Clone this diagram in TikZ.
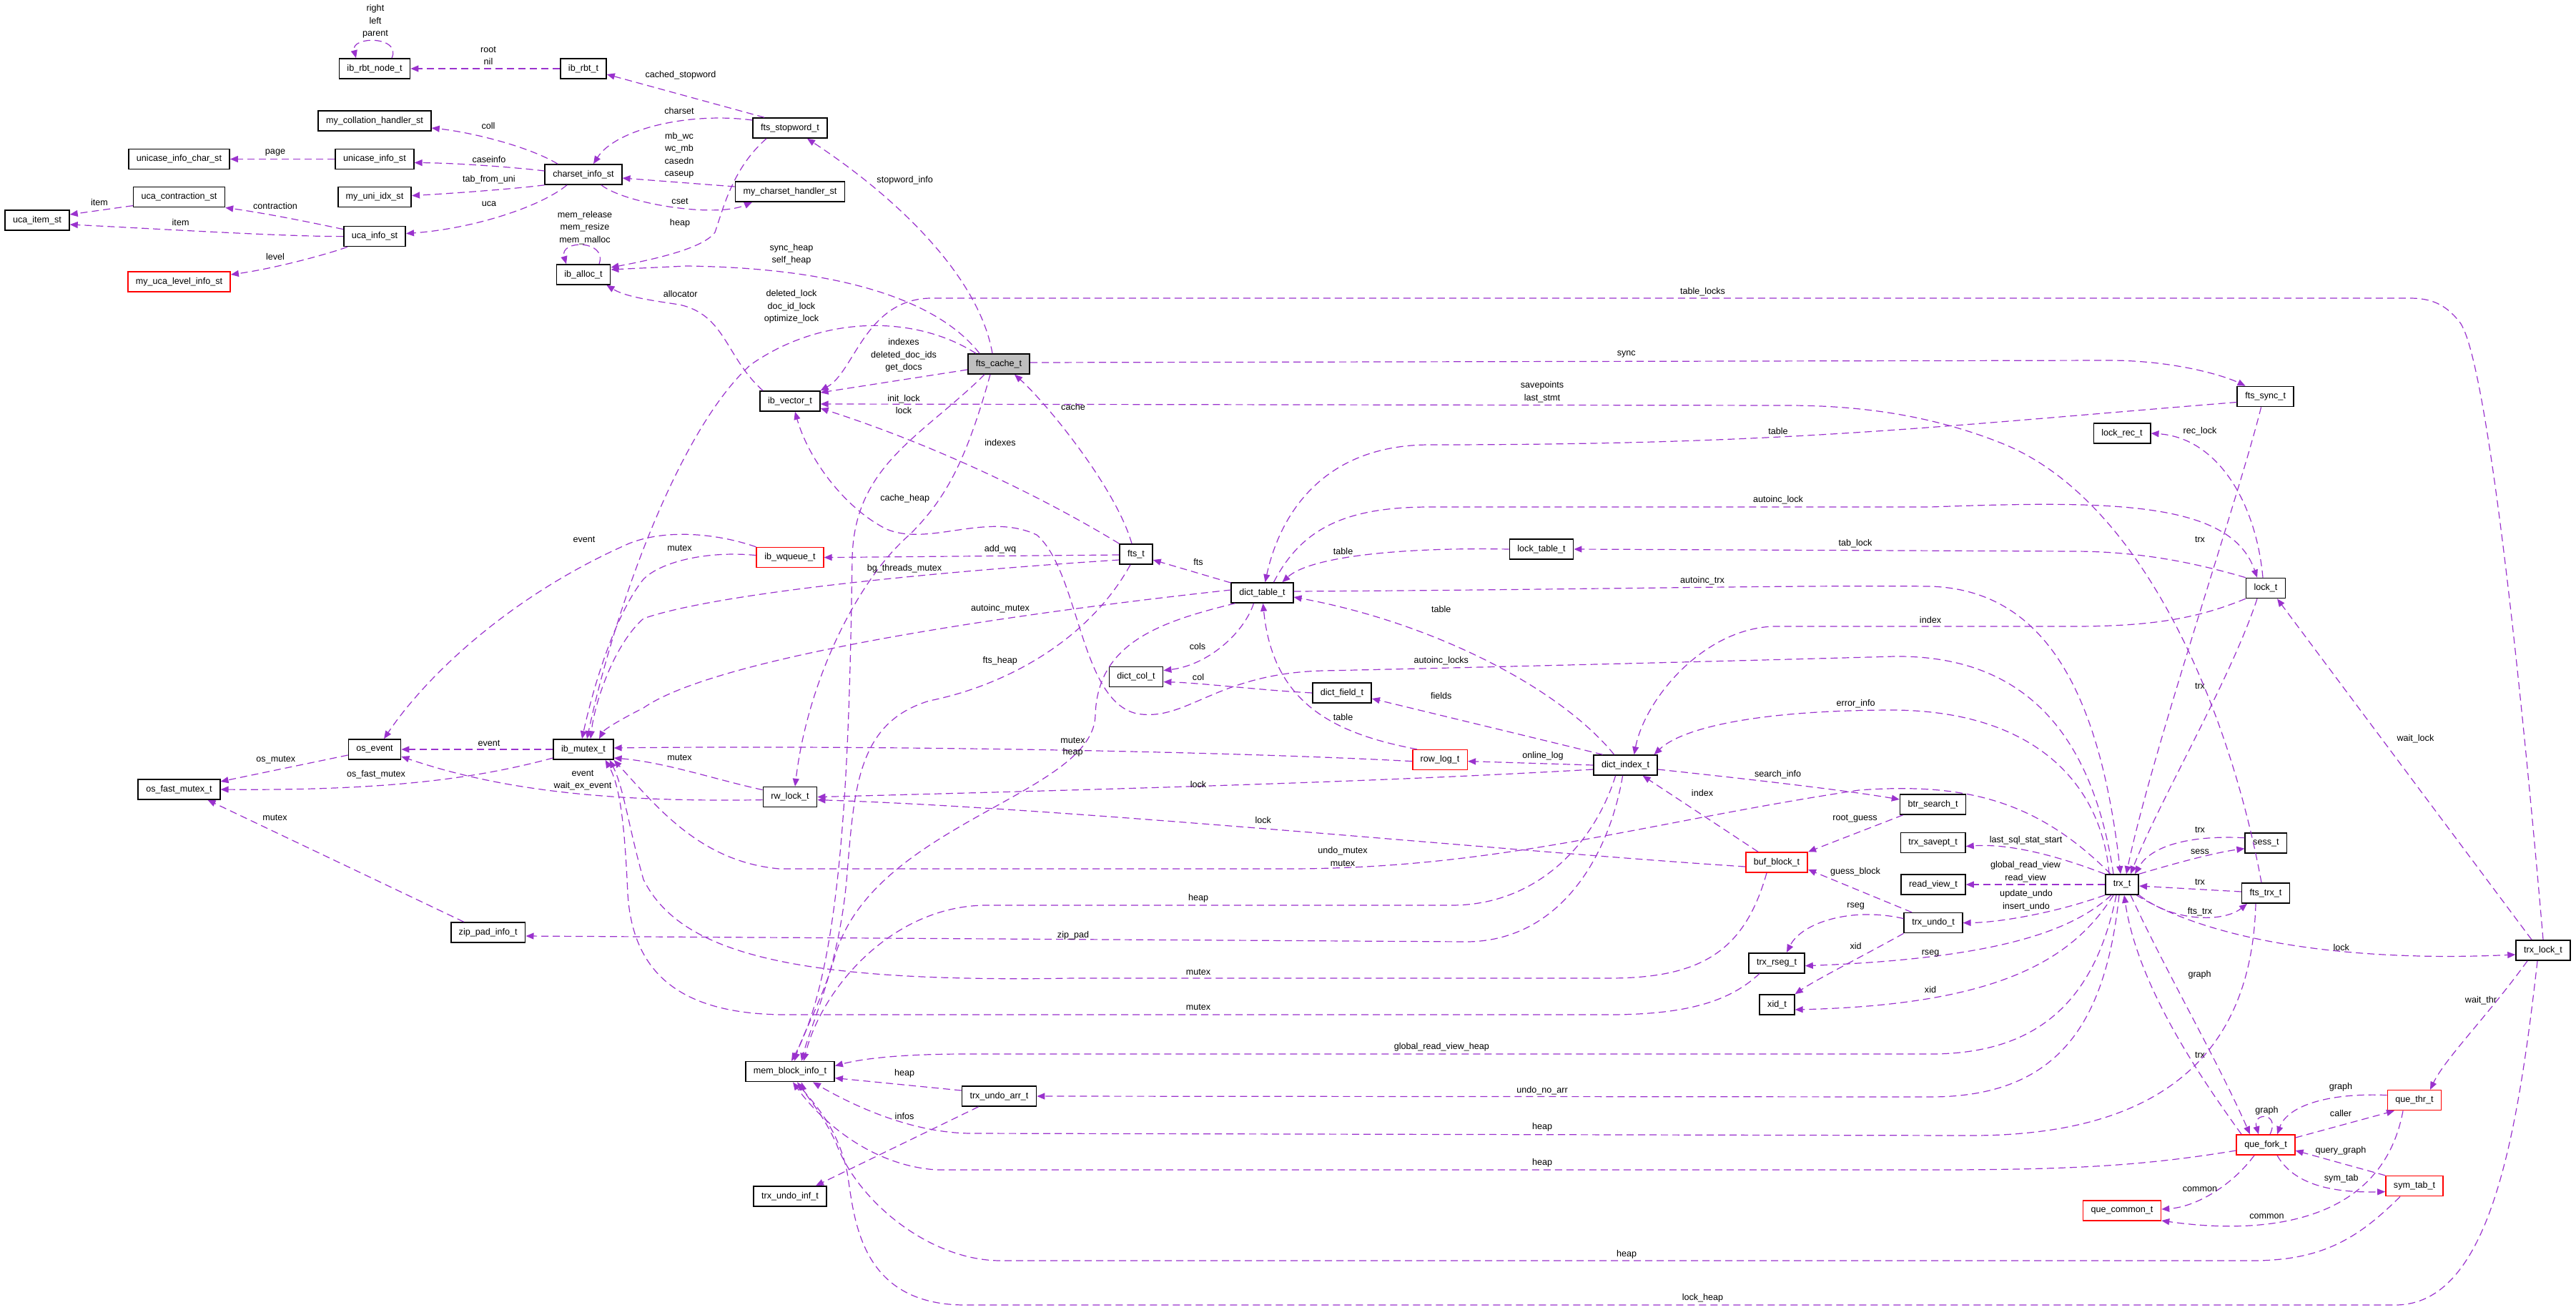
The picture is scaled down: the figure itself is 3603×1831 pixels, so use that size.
\documentclass[tikz,border=0pt]{standalone}
\usepackage{fontspec}
\setmainfont{Liberation Sans}
\usetikzlibrary{arrows.meta}
\definecolor{edgeclr}{HTML}{9A32CD}
\definecolor{mainfill}{HTML}{BFBFBF}
\newcommand{\dxsize}{\fontsize{6.3}{8.75}\selectfont}

\begin{document}
\begin{tikzpicture}[
    x=0.5pt, y=-0.5pt,
    cls/.style={draw=black, line width=0.8pt, fill=white, font=\dxsize,
                inner xsep=5.5pt, inner ysep=0pt, minimum height=14pt},
    clsred/.style={cls, draw=red},
    clsmain/.style={cls, fill=mainfill},
    ed/.style={draw=edgeclr, line width=0.6pt, dash pattern=on 5pt off 3pt,
               -{Triangle[length=5.5pt,width=4.5pt]}},
    lbl/.style={font=\dxsize, inner sep=0pt, align=center},
  ]
  \useasboundingbox (0,0) rectangle (3603,1831);

  \node[cls] (ibrbtnode) at (524,96) {ib\_rbt\_node\_t};
  \node[cls] (ibrbt) at (816,96) {ib\_rbt\_t};
  \node[cls] (collhandler) at (524,169) {my\_collation\_handler\_st};
  \node[cls] (unicasechar) at (250.5,222.5) {unicase\_info\_char\_st};
  \node[cls] (unicase) at (524,222.5) {unicase\_info\_st};
  \node[cls] (charset) at (816,244) {charset\_info\_st};
  \node[cls] (uniidx) at (524,275.6) {my\_uni\_idx\_st};
  \node[cls] (ucacontr) at (250.5,275.6) {uca\_contraction\_st};
  \node[cls] (ucaitem) at (52,308) {uca\_item\_st};
  \node[cls] (ucainfo) at (524,330.6) {uca\_info\_st};
  \node[clsred] (ucalevel) at (250.5,394) {my\_uca\_level\_info\_st};
  \node[cls] (iballoc) at (816,384) {ib\_alloc\_t};
  \node[cls] (stopword) at (1105,179) {fts\_stopword\_t};
  \node[cls] (charsethandler) at (1105,268) {my\_charset\_handler\_st};
  \node[clsmain] (ftscache) at (1397,509) {fts\_cache\_t};
  \node[cls] (ibvector) at (1105,561) {ib\_vector\_t};
  \node[clsred] (ibwqueue) at (1105,779.6) {ib\_wqueue\_t};
  \node[cls] (osevent) at (524,1048) {os\_event};
  \node[cls] (ibmutex) at (816,1048) {ib\_mutex\_t};
  \node[cls] (osfastmutex) at (250.5,1104) {os\_fast\_mutex\_t};
  \node[cls] (zippad) at (682.7,1304) {zip\_pad\_info\_t};
  \node[cls] (rwlock) at (1105,1114.6) {rw\_lock\_t};
  \node[cls] (ftst) at (1589,775) {fts\_t};
  \node[cls] (dicttable) at (1765.5,829) {dict\_table\_t};
  \node[cls] (dictcol) at (1589,946.6) {dict\_col\_t};
  \node[cls] (memblock) at (1105,1498.6) {mem\_block\_info\_t};
  \node[cls] (trxundoarr) at (1397.5,1533) {trx\_undo\_arr\_t};
  \node[cls] (trxundoinf) at (1105,1673) {trx\_undo\_inf\_t};
  \node[cls] (locktable) at (2156,768) {lock\_table\_t};
  \node[cls] (dictfield) at (1877,969) {dict\_field\_t};
  \node[clsred] (rowlog) at (2014,1062.6) {row\_log\_t};
  \node[cls] (dictindex) at (2273.6,1070) {dict\_index\_t};
  \node[cls] (btrsearch) at (2703.6,1125) {btr\_search\_t};
  \node[cls] (trxsavept) at (2703.6,1178.6) {trx\_savept\_t};
  \node[clsred] (bufblock) at (2485,1206) {buf\_block\_t};
  \node[cls] (readview) at (2704,1237) {read\_view\_t};
  \node[cls] (trxundo) at (2704,1290.6) {trx\_undo\_t};
  \node[cls] (trxrseg) at (2485,1346.7) {trx\_rseg\_t};
  \node[cls] (xid) at (2485.5,1405) {xid\_t};
  \node[cls] (ftssync) at (3168.6,554.5) {fts\_sync\_t};
  \node[cls] (lockrec) at (2968,606) {lock\_rec\_t};
  \node[cls] (lockt) at (3169,822.5) {lock\_t};
  \node[cls] (sess) at (3169.4,1178.7) {sess\_t};
  \node[cls] (trx) at (2968,1237) {trx\_t};
  \node[cls] (ftstrx) at (3169,1249) {fts\_trx\_t};
  \node[cls] (trxlock) at (3557,1329) {trx\_lock\_t};
  \node[clsred] (quethr) at (3377,1538.6) {que\_thr\_t};
  \node[clsred] (quefork) at (3169,1601) {que\_fork\_t};
  \node[clsred] (symtab) at (3377,1658.6) {sym\_tab\_t};
  \node[clsred] (quecommon) at (2968,1693) {que\_common\_t};

  \draw[ed] ([xshift=12pt]ibrbtnode.north) .. controls (562,50) and (490,50) .. ([xshift=-13pt]ibrbtnode.north)
    node[lbl] at (525,30) {right\\left\\parent};
  \draw[ed] (ibrbt.west) -- (ibrbtnode.east) node[lbl] at (683,78) {root\\nil};
  \draw[ed] ([xshift=-18pt]stopword.north) -- ([yshift=-4pt]ibrbt.east) node[lbl] at (952,105) {cached\_stopword};
  \draw[ed] ([xshift=-18pt]charset.north) .. controls (740,205) and (660,185) .. ([yshift=-5pt]collhandler.east)
    node[lbl] at (683,176) {coll};
  \draw[ed] ([yshift=2.5pt]charset.west) .. controls (720,234) and (640,228) .. ([yshift=-2.5pt]unicase.east)
    node[lbl] at (684,222.6) {caseinfo};
  \draw[ed] (unicase.west) -- (unicasechar.east) node[lbl] at (385,213.5) {page};
  \draw[ed] (charset.south west) .. controls (720,264) and (640,270) .. ([yshift=1pt]uniidx.east)
    node[lbl] at (684,251.5) {tab\_from\_uni};
  \draw[ed] ([xshift=-11.5pt]charset.south) .. controls (755,290) and (660,320) .. ([yshift=2pt]ucainfo.east)
    node[lbl] at (684,284.7) {uca};
  \draw[ed] ([yshift=-6pt]ucacontr.west) -- ([yshift=4pt]ucaitem.east) node[lbl] at (139,283) {item};
  \draw[ed] (ucainfo.west) .. controls (400,331) and (220,320) .. ([yshift=-3pt]ucaitem.east)
    node[lbl] at (252.6,310.8) {item};
  \draw[ed] ([yshift=5pt]ucainfo.west) .. controls (430,310) and (370,298) .. (ucacontr.south east)
    node[lbl] at (385,288) {contraction};
  \draw[ed] ([xshift=-19pt]ucainfo.south) .. controls (450,358) and (380,376) .. ([yshift=5pt]ucalevel.east)
    node[lbl] at (385,358.6) {level};
  \draw[ed] ([xshift=11pt]iballoc.north) .. controls (850,335) and (782,335) .. ([xshift=-12pt]iballoc.north)
    node[lbl] at (818,318.4) {mem\_release\\mem\_resize\\mem\_malloc};
  \draw[ed] ([yshift=5.5pt]stopword.west) .. controls (960,156) and (860,182) .. ([xshift=7pt]charset.north)
    node[lbl] at (950,154.6) {charset};
  \draw[ed] ([yshift=3.5pt]charsethandler.west) -- ([yshift=-2.5pt]charset.east)
    node[lbl] at (950,217) {mb\_wc\\wc\_mb\\casedn\\caseup};
  \draw[ed] ([xshift=12.5pt]charset.south) .. controls (875,285) and (1000,305) .. ([xshift=-26.5pt]charsethandler.south)
    node[lbl] at (951,281) {cset};
  \draw[ed] ([xshift=-16.5pt]stopword.south) .. controls (1025,235) and (1012,290) .. (1000,325)
    .. controls (985,345) and (930,360) .. ([yshift=5pt]iballoc.east) node[lbl] at (951,312) {heap};
  \draw[ed] ([xshift=-13.5pt]ftscache.north) .. controls (1320,430) and (1200,375) .. (960,372) -- ([yshift=3.5pt]iballoc.east)
    node[lbl] at (1107,355.5) {sync\_heap\\self\_heap};
  \draw[ed] ([xshift=-19pt]ibvector.north) .. controls (1015,500) and (1015,440) .. (950,426)
    .. controls (910,420) and (875,415) .. ([xshift=-3pt]iballoc.south east) node[lbl] at (951.7,411) {allocator};
  \draw[ed] ([xshift=-4.5pt]ftscache.north) .. controls (1370,390) and (1260,280) .. ([xshift=12pt]stopword.south)
    node[lbl] at (1265.7,252) {stopword\_info};
  \draw[ed] ([xshift=-16pt]ftscache.north) .. controls (1280,440) and (1150,440) .. (1050,510)
    .. controls (950,600) and (860,850) .. ([xshift=2.5pt]ibmutex.north)
    node[lbl] at (1107,429) {deleted\_lock\\doc\_id\_lock\\optimize\_lock};
  \draw[ed] ([yshift=-4pt]ftscache.west) -- ([yshift=6pt]ibvector.east)
    node[lbl] at (1264,497) {indexes\\deleted\_doc\_ids\\get\_docs};
  \draw[ed] ([xshift=-6pt]ftscache.south) .. controls (1350,650) and (1320,700) .. (1273,747)
    .. controls (1200,810) and (1130,950) .. ([xshift=3.5pt]rwlock.north) node[lbl] at (1264,565.6) {init\_lock\\lock};
  \draw[ed] ([xshift=-10pt]ftscache.south) .. controls (1290,610) and (1195,650) .. (1192,780)
    .. controls (1188,1050) and (1180,1350) .. ([xshift=1pt]memblock.north) node[lbl] at (1265.7,697) {cache\_heap};
  \draw[ed] ([xshift=-3pt]ftst.north) .. controls (1560,680) and (1460,560) .. ([xshift=11pt]ftscache.south)
    node[lbl] at (1501,569) {cache};
  \draw[ed] (ftst.north west) .. controls (1450,690) and (1300,620) .. ([yshift=-5pt]ibvector.east)
    node[lbl] at (1399,619) {indexes};
  \draw[ed] ([yshift=-0.5pt]ftst.west) -- (ibwqueue.east) node[lbl] at (1399,768) {add\_wq};
  \draw[ed] ([yshift=-4pt]ftst.west) .. controls (1300,800) and (1000,830) .. (900,865)
    .. controls (860,900) and (832,980) .. ([xshift=5pt]ibmutex.north) node[lbl] at (1265,795.7) {bg\_threads\_mutex};
  \draw[ed] ([yshift=1.5pt]ibwqueue.west) .. controls (990,770) and (925,785) .. (900,810)
    .. controls (860,860) and (830,960) .. ([xshift=-1pt]ibmutex.north) node[lbl] at (950.5,766.5) {mutex};
  \draw[ed] (ibwqueue.north west) .. controls (1000,745) and (930,740) .. (880,760)
    .. controls (720,830) and (600,940) .. ([xshift=6.5pt]osevent.north) node[lbl] at (817,754.6) {event};
  \draw[ed] ([yshift=2pt]dicttable.west) .. controls (1400,860) and (1000,920) .. (900,990)
    .. controls (870,1005) and (845,1020) .. ([xshift=11pt]ibmutex.north) node[lbl] at (1399,850.7) {autoinc\_mutex};
  \draw[ed] ([yshift=-1pt]rowlog.west) .. controls (1700,1050) and (1200,1042) .. ([yshift=1pt]ibmutex.east)
    node[lbl] at (1500.5,1035) {mutex};
  \draw[ed] ([yshift=5pt]rwlock.west) .. controls (1000,1090) and (930,1066) .. ([yshift=-6pt]ibmutex.east)
    node[lbl] at (950.5,1059) {mutex};
  \draw[ed] ([yshift=-2pt]rwlock.west) .. controls (850,1122) and (700,1105) .. ([yshift=-5pt]osevent.east)
    node[lbl] at (815,1091.3) {event\\wait\_ex\_event};
  \draw[ed] (ibmutex.west) -- (osevent.east) node[lbl] at (684,1039) {event};
  \draw[ed] ([yshift=-4pt]osevent.west) -- ([yshift=5.5pt]osfastmutex.east) node[lbl] at (385.8,1063) {os\_mutex};
  \draw[ed] ([yshift=-6pt]ibmutex.west) .. controls (680,1085) and (560,1106) .. (osfastmutex.east)
    node[lbl] at (526,1082.8) {os\_fast\_mutex};
  \draw[ed] ([xshift=-17pt]zippad.north) -- ([xshift=20pt]osfastmutex.south) node[lbl] at (384.6,1143) {mutex};
  \draw[ed] ([xshift=-2pt]dictindex.south) .. controls (2250,1200) and (2180,1317) .. (2050,1317)
    -- ([yshift=-2.5pt]zippad.east) node[lbl] at (1501,1307.8) {zip\_pad};
  \draw[ed] ([xshift=-7pt]dictindex.south) .. controls (2230,1180) and (2150,1266) .. (2030,1266) -- (1380,1266)
    .. controls (1250,1266) and (1150,1380) .. ([xshift=9.5pt]memblock.north) node[lbl] at (1676,1256.7) {heap};
  \draw[ed] ([xshift=-19pt]dicttable.south) .. controls (1620,870) and (1535,900) .. (1532,1000)
    .. controls (1530,1110) and (1230,1150) .. (1170,1330)
    .. controls (1150,1400) and (1125,1440) .. ([xshift=3pt]memblock.north) node[lbl] at (1500.5,1052) {heap};
  \draw[ed] ([xshift=-4pt]ftst.south) .. controls (1520,900) and (1400,960) .. (1300,980)
    .. controls (1200,1010) and (1195,1100) .. (1185,1220)
    .. controls (1175,1350) and (1135,1430) .. ([xshift=8pt]memblock.north) node[lbl] at (1398.8,923.8) {fts\_heap};
  \draw[ed] ([yshift=-3pt]dictindex.west) .. controls (1900,1095) and (1500,1105) .. (rwlock.east)
    node[lbl] at (1676,1096.6) {lock};
  \draw[ed] ([yshift=-3pt]bufblock.west) .. controls (2100,1190) and (1500,1130) .. ([yshift=-2pt]rwlock.east)
    node[lbl] at (1766.8,1146.5) {lock};
  \draw[ed] ([xshift=4pt]trx.north west) .. controls (2850,1120) and (2750,1094) .. (2600,1105)
    .. controls (2300,1150) and (2100,1215) .. (1800,1215) -- (1090,1215)
    .. controls (980,1205) and (920,1130) .. (ibmutex.south east) node[lbl] at (1878,1198) {undo\_mutex\\mutex};
  \draw[ed] ([xshift=-7pt]bufblock.south) .. controls (2440,1330) and (2380,1368) .. (2250,1368) -- (1500,1368)
    .. controls (1100,1375) and (950,1330) .. (900,1230)
    .. controls (880,1160) and (872,1100) .. ([xshift=-3pt]ibmutex.south east) node[lbl] at (1676,1359) {mutex};
  \draw[ed] ([xshift=-12pt]trxrseg.south) .. controls (2420,1400) and (2360,1419) .. (2250,1419) -- (1100,1419)
    .. controls (950,1419) and (885,1360) .. (878,1250)
    .. controls (874,1160) and (868,1100) .. ([xshift=-6pt]ibmutex.south east) node[lbl] at (1676,1408.8) {mutex};
  \draw[ed] ([xshift=-16pt]rowlog.north) .. controls (1860,1025) and (1780,980) .. ([xshift=0.5pt]dicttable.south)
    node[lbl] at (1878.6,1002.5) {table};
  \draw[ed] ([xshift=-8pt]dictindex.north) .. controls (2180,960) and (2000,870) .. ([yshift=-3pt]dicttable.east)
    node[lbl] at (2015.8,852) {table};
  \draw[ed] (locktable.west) .. controls (1950,765) and (1830,780) .. ([xshift=14pt]dicttable.north)
    node[lbl] at (1878.6,770.8) {table};
  \draw[ed] ([yshift=-4pt]ftssync.west) .. controls (2700,597) and (2500,622) .. (2000,622)
    .. controls (1850,622) and (1790,720) .. ([xshift=2pt]dicttable.north) node[lbl] at (2487,603) {table};
  \draw[ed] ([yshift=7pt]dicttable.west) -- ([yshift=-4pt]ftst.east) node[lbl] at (1676,786) {fts};
  \draw[ed] ([xshift=-6pt]dicttable.south) .. controls (1740,885) and (1690,930) .. ([yshift=4.5pt]dictcol.east)
    node[lbl] at (1675,903.7) {cols};
  \draw[ed] (dictfield.west) .. controls (1760,965) and (1680,955) .. ([yshift=-3.5pt]dictcol.east)
    node[lbl] at (1676,946.8) {col};
  \draw[ed] ([xshift=-16pt]dictindex.north) -- ([yshift=-4pt]dictfield.east) node[lbl] at (2015.8,972.5) {fields};
  \draw[ed] (dictindex.west) -- ([yshift=-1pt]rowlog.east) node[lbl] at (2158,1057) {online\_log};
  \draw[ed] ([yshift=-3pt]dictindex.east) .. controls (2450,1090) and (2580,1105) .. ([yshift=3.5pt]btrsearch.west)
    node[lbl] at (2486.6,1083.6) {search\_info};
  \draw[ed] ([xshift=-21pt]btrsearch.south) -- ([xshift=22pt]bufblock.north) node[lbl] at (2594.5,1145) {root\_guess};
  \draw[ed] ([xshift=-13pt]bufblock.north) -- ([xshift=12pt]dictindex.south) node[lbl] at (2381,1108.5) {index};
  \draw[ed] ([xshift=-15pt]trxundo.north) -- ([yshift=-5pt]bufblock.east) node[lbl] at (2595,1219) {guess\_block};
  \draw[ed] ([yshift=3pt]trxundo.west) .. controls (2590,1268) and (2520,1290) .. ([xshift=7pt]trxrseg.north)
    node[lbl] at (2595.6,1267) {rseg};
  \draw[ed] (trxundo.south west) .. controls (2600,1340) and (2540,1370) .. (xid.north east)
    node[lbl] at (2595.6,1322.7) {xid};
  \draw[ed] ([xshift=-7.5pt]trx.south) .. controls (2900,1300) and (2800,1340) .. ([yshift=-2pt]trxrseg.east)
    node[lbl] at (2700,1333) {rseg};
  \draw[ed] ([xshift=-6pt]trx.south) .. controls (2900,1340) and (2800,1405) .. ([yshift=-3.5pt]xid.east)
    node[lbl] at (2700,1384) {xid};
  \draw[ed] (trx.south west) .. controls (2880,1275) and (2800,1290) .. (trxundo.east)
    node[lbl] at (2834,1259) {update\_undo\\insert\_undo};
  \draw[ed] (trx.west) -- (readview.east) node[lbl] at (2833,1219.4) {global\_read\_view\\read\_view};
  \draw[ed] (trx.north west) .. controls (2860,1190) and (2800,1180) .. ([yshift=-2.5pt]trxsavept.east)
    node[lbl] at (2833.6,1175) {last\_sql\_stat\_start};
  \draw[ed] ([xshift=-4pt]trx.south) .. controls (2930,1400) and (2850,1474) .. (2700,1474) -- (1350,1474)
    .. controls (1250,1474) and (1200,1482) .. ([yshift=4pt]memblock.east) node[lbl] at (2016.4,1464) {global\_read\_view\_heap};
  \draw[ed] ([xshift=-2pt]trx.south) .. controls (2945,1430) and (2880,1534) .. (2700,1534) -- (trxundoarr.east)
    node[lbl] at (2157,1525) {undo\_no\_arr};
  \draw[ed] ([xshift=-9pt]trx.north) .. controls (2940,1100) and (2850,995) .. (2650,993)
    .. controls (2450,993) and (2350,1020) .. ([xshift=20pt]dictindex.north) node[lbl] at (2595.6,984) {error\_info};
  \draw[ed] ([xshift=-6pt]trx.north) .. controls (2930,1050) and (2850,916) .. (2650,918)
    .. controls (2400,925) and (2000,935) .. (1850,938)
    .. controls (1700,942) and (1660,1010) .. (1590,998)
    .. controls (1510,980) and (1510,800) .. (1450,748)
    .. controls (1380,715) and (1300,765) .. (1240,740)
    .. controls (1180,710) and (1130,640) .. ([xshift=3.5pt]ibvector.south) node[lbl] at (2015.8,924.6) {autoinc\_locks};
  \draw[ed] ([yshift=1pt]dicttable.east) .. controls (2200,825) and (2500,818) .. (2700,820)
    .. controls (2850,825) and (2935,950) .. ([xshift=-1pt]trx.north) node[lbl] at (2381,812) {autoinc\_trx};
  \draw[ed] ([xshift=-6pt]lockt.south) .. controls (3120,950) and (3020,1120) .. ([xshift=6pt]trx.north)
    node[lbl] at (3077,959.8) {trx};
  \draw[ed] ([xshift=-3pt]ftssync.south) .. controls (3130,700) and (3010,1050) .. ([xshift=3pt]trx.north)
    node[lbl] at (3077,754.6) {trx};
  \draw[ed] ([yshift=3.5pt]sess.west) .. controls (3070,1168) and (3010,1180) .. ([xshift=9pt]trx.north)
    node[lbl] at (3077,1160.7) {trx};
  \draw[ed] (trx.north east) .. controls (3050,1205) and (3100,1192) .. ([yshift=-4pt]sess.west)
    node[lbl] at (3077,1191) {sess};
  \draw[ed] ([yshift=1pt]ftstrx.west) -- ([yshift=-1pt]trx.east) node[lbl] at (3077,1233) {trx};
  \draw[ed] (trx.south east) .. controls (3040,1290) and (3110,1290) .. ([xshift=-13pt]ftstrx.south)
    node[lbl] at (3077,1275) {fts\_trx};
  \draw[ed] ([xshift=-2pt]trx.south east) .. controls (3100,1320) and (3300,1345) .. ([yshift=-3pt]trxlock.west)
    node[lbl] at (3274.7,1324.7) {lock};
  \draw[ed] ([xshift=6pt]trx.south) .. controls (3030,1360) and (3100,1480) .. ([xshift=-11pt]quefork.north)
    node[lbl] at (3076.6,1363) {graph};
  \draw[ed] ([xshift=-17pt]quefork.north) .. controls (3080,1510) and (2990,1380) .. ([xshift=1.5pt]trx.south)
    node[lbl] at (3077,1475.6) {trx};
  \draw[ed] ([xshift=3pt]quefork.north) .. controls (3190,1555) and (3150,1555) .. ([xshift=-5pt]quefork.north)
    node[lbl] at (3170.5,1553) {graph};
  \draw[ed] ([yshift=3.5pt]quethr.west) .. controls (3260,1528) and (3200,1545) .. ([xshift=8pt]quefork.north)
    node[lbl] at (3274,1520.7) {graph};
  \draw[ed] ([yshift=5pt]quefork.east) -- ([xshift=-14pt]quethr.south) node[lbl] at (3274,1557) {caller};
  \draw[ed] (symtab.north west) -- ([yshift=-4pt]quefork.east) node[lbl] at (3274,1609) {query\_graph};
  \draw[ed] ([xshift=8pt]quefork.south) .. controls (3210,1660) and (3270,1668) .. ([yshift=-4pt]symtab.west)
    node[lbl] at (3274.7,1648) {sym\_tab};
  \draw[ed] ([xshift=-8pt]quefork.south) .. controls (3120,1660) and (3070,1688) .. ([yshift=1pt]quecommon.east)
    node[lbl] at (3077,1662.8) {common};
  \draw[ed] ([xshift=-8pt]quethr.south) .. controls (3330,1720) and (3150,1725) .. ([yshift=-7pt]quecommon.east)
    node[lbl] at (3170.5,1701) {common};
  \draw[ed] ([xshift=-11pt]trxlock.south) .. controls (3480,1420) and (3420,1480) .. ([xshift=11pt]quethr.north)
    node[lbl] at (3470,1398.8) {wait\_thr};
  \draw[ed] ([xshift=-8pt]trxlock.north) -- ([xshift=8pt]lockt.south) node[lbl] at (3378.4,1033) {wait\_lock};
  \draw[ed] (trxlock.north) .. controls (3530,1000) and (3480,500) .. (3440,450)
    .. controls (3420,425) and (3400,417) .. (3370,417) -- (1300,417)
    .. controls (1210,420) and (1195,520) .. (ibvector.north east) node[lbl] at (2381.5,408) {table\_locks};
  \draw[ed] ([xshift=-4pt]trxlock.south) .. controls (3520,1600) and (3480,1825) .. (3350,1825) -- (1350,1825)
    .. controls (1200,1825) and (1195,1700) .. (1185,1640)
    .. controls (1172,1575) and (1135,1540) .. ([xshift=5pt]memblock.south) node[lbl] at (2381.5,1815.7) {lock\_heap};
  \draw[ed] ([xshift=-10pt]symtab.south) .. controls (3300,1730) and (3250,1763) .. (3150,1763) -- (1400,1763)
    .. controls (1300,1763) and (1200,1680) .. (1170,1600)
    .. controls (1150,1555) and (1125,1530) .. ([xshift=8pt]memblock.south) node[lbl] at (2275,1754.5) {heap};
  \draw[ed] ([yshift=-4pt]quefork.west) .. controls (3000,1630) and (2900,1636) .. (2700,1636) -- (1310,1636)
    .. controls (1220,1630) and (1150,1570) .. ([xshift=2pt]memblock.south) node[lbl] at (2157,1626.6) {heap};
  \draw[ed] ([xshift=-7pt]ftstrx.south) .. controls (3150,1450) and (3050,1590) .. (2750,1588) -- (1360,1585)
    .. controls (1280,1585) and (1200,1550) .. ([xshift=16pt]memblock.south) node[lbl] at (2157,1576) {heap};
  \draw[ed] ([xshift=-3pt]ftstrx.north) .. controls (3120,1000) and (3000,700) .. (2800,620)
    .. controls (2700,580) and (2600,567) .. (2500,567) -- ([yshift=-2pt]ibvector.east)
    node[lbl] at (2157,548.4) {savepoints\\last\_stmt};
  \draw[ed] ([yshift=1pt]ftscache.east) -- (2950,504) .. controls (3040,504) and (3110,525) .. ([xshift=-14pt]ftssync.north)
    node[lbl] at (2274.7,495) {sync};
  \draw[ed] (lockt.north west) .. controls (3080,790) and (3000,771) .. (2900,771) -- (locktable.east)
    node[lbl] at (2595,760.5) {tab\_lock};
  \draw[ed] ([xshift=-2pt]lockt.north) .. controls (3155,700) and (3100,612) .. (lockrec.east)
    node[lbl] at (3077,603) {rec\_lock};
  \draw[ed] (lockt.south west) .. controls (3080,862) and (3020,876) .. (2900,876) -- (2480,876)
    .. controls (2380,880) and (2300,980) .. ([xshift=6pt]dictindex.north) node[lbl] at (2700,867) {index};
  \draw[ed] ([xshift=8pt]dicttable.north) .. controls (1820,740) and (1880,709) .. (2000,709) -- (2700,709)
    .. controls (2950,700) and (3120,700) .. ([xshift=-6pt]lockt.north) node[lbl] at (2487,699.6) {autoinc\_lock};
  \draw[ed] ([yshift=4pt]trxundoarr.west) -- ([yshift=-4.5pt]memblock.east) node[lbl] at (1265,1501) {heap};
  \draw[ed] ([xshift=-14.5pt]trxundoarr.south) -- ([xshift=18pt]trxundoinf.north) node[lbl] at (1265,1561) {infos};
\end{tikzpicture}
\end{document}
